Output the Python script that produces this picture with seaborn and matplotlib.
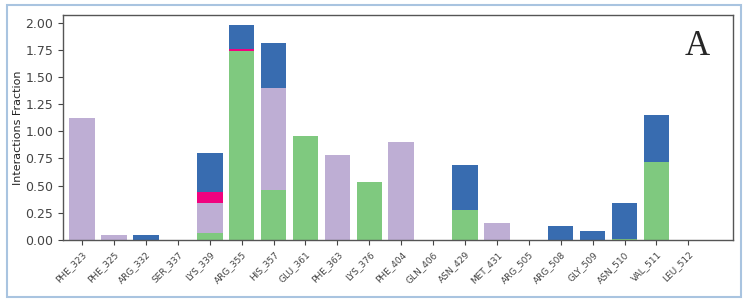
import numpy as np
import pandas as pd
import matplotlib
matplotlib.use("Agg")
import matplotlib.pyplot as plt
import seaborn as sns
from matplotlib.patches import Rectangle

# Residues and interaction fractions
residues = ['PHE_323', 'PHE_325', 'ARG_332', 'SER_337', 'LYS_339', 'ARG_355',
            'HIS_357', 'GLU_361', 'PHE_363', 'LYS_376', 'PHE_404', 'GLN_406',
            'ASN_429', 'MET_431', 'ARG_505', 'ARG_508', 'GLY_509', 'ASN_510',
            'VAL_511', 'LEU_512']
h_bonds = [0, 0, 0, 0, 0.06, 1.74, 0.46, 0.96, 0, 0.53, 0, 0, 0.28, 0, 0, 0, 0, 0.01, 0.72, 0]
hydrophobic = [1.12, 0.05, 0, 0, 0.28, 0, 0.94, 0, 0.78, 0, 0.90, 0, 0, 0.16, 0, 0, 0, 0, 0, 0]
ionic = [0, 0, 0, 0, 0.10, 0.02, 0, 0, 0, 0, 0, 0, 0, 0, 0, 0, 0, 0, 0, 0]
water_bridges = [0, 0, 0.05, 0, 0.36, 0.22, 0.41, 0, 0, 0, 0, 0, 0.41, 0, 0, 0.13, 0.08, 0.33, 0.43, 0]

series = [('H-bonds', h_bonds, '#7fc97f'),
          ('Hydrophobic', hydrophobic, '#beaed4'),
          ('Ionic', ionic, '#f0027f'),
          ('Water bridges', water_bridges, '#386cb0')]

sns.set_style("white")
fig = plt.figure(figsize=(7.48, 3.07), dpi=100)
ax = fig.add_axes([63 / 748, 1 - 240 / 307, 670 / 748, 225 / 307])

bottom = np.zeros(len(residues))
for name, vals, color in series:
    df = pd.DataFrame({'residue': residues, 'value': vals})
    sns.barplot(data=df, x='residue', y='value', color=color, ax=ax,
                bottom=bottom, width=0.8, saturation=1, errorbar=None,
                linewidth=0)
    bottom += np.array(vals)

ax.set_xlim(-0.6, 20.4)
ax.set_ylim(0, 2.07)
ax.set_yticks([0, 0.25, 0.5, 0.75, 1.0, 1.25, 1.5, 1.75, 2.0])
ax.yaxis.set_major_formatter(plt.FuncFormatter(lambda v, _: f"{v:.2f}"))
ax.tick_params(axis='y', labelsize=9, length=3.5, width=0.8, left=True, colors='#444444')
ax.tick_params(axis='x', labelsize=6.5, length=3.5, width=0.8, bottom=True, colors='#444444')
plt.setp(ax.get_xticklabels(), rotation=45, ha='right', rotation_mode='anchor')
ax.set_xlabel('')
ax.set_ylabel('Interactions Fraction', fontsize=8, color='#222222')
ax.yaxis.set_label_coords(-0.06, 0.5)

for s in ax.spines.values():
    s.set_color('#555555')
    s.set_linewidth(1.0)

ax.text(0.965, 0.86, 'A', transform=ax.transAxes, fontsize=25,
        family='Liberation Serif', ha='right', va='center')

# Light blue outer frame
fig.patches.append(Rectangle((7 / 748, 1 - 297 / 307), 734 / 748, 292 / 307,
                             transform=fig.transFigure, fill=False,
                             edgecolor='#a9c4e0', linewidth=1.5))

fig.savefig('out.png', dpi=100)
